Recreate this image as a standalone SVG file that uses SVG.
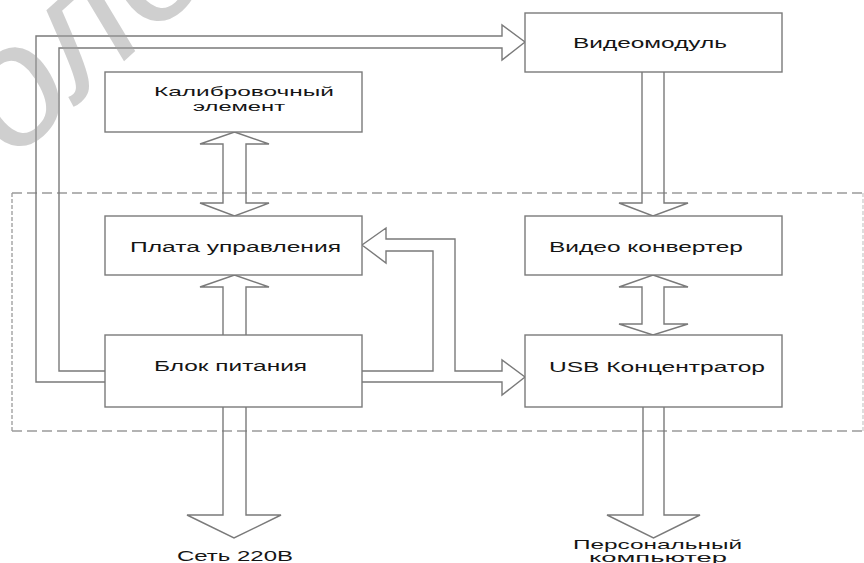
<svg xmlns="http://www.w3.org/2000/svg" width="864" height="563" viewBox="0 0 864 563">
<style>
.box{fill:#fff;stroke:#7a7a7a;stroke-width:1.4}
.con{fill:none;stroke:#7a7a7a;stroke-width:1.4;stroke-linejoin:miter}
.lbl{font-family:"Liberation Sans",Arial,sans-serif;font-size:14px;fill:#151515}
.sm{font-size:13px}
.dash{fill:none;stroke:#9a9a9a;stroke-width:1.3}
</style>
<rect width="864" height="563" fill="#fff"/>
<g id="boundary">
<line class="dash" x1="12" y1="193" x2="864" y2="193" stroke-dasharray="10 5"/>
<line class="dash" x1="12" y1="431" x2="864" y2="431" stroke-dasharray="10 5"/>
<line class="dash" x1="12" y1="193" x2="12" y2="431" stroke-dasharray="4 2"/>
<line class="dash" x1="863" y1="193" x2="863" y2="431" stroke-dasharray="4 2" stroke-opacity="0.5"/>
</g>
<g id="connectors">
<path class="con" d="M105,382 L36,382 L36,36 L502,36 L502,25 L525,42 L502,60 L502,48 L59,48 L59,371 L105,371"/>
<path class="con" d="M362,371 L433,371 L433,251 L386,251 L386,263 L362,245 L386,228 L386,239 L455,239 L455,371 L502,371 L502,360 L525,377 L502,395 L502,382 L362,382"/>
<path class="con" d="M234.5,132 L269,144 L246,144 L246,203 L269,203 L234.5,216 L200,203 L223,203 L223,144 L200,144 Z"/>
<path class="con" d="M223,335 L223,287 L200,287 L234.5,275 L269,287 L246,287 L246,335"/>
<path class="con" d="M642,72 L642,203 L619,203 L653,216 L688,203 L664,203 L664,72"/>
<path class="con" d="M653,275 L688,287 L664,287 L664,324 L688,324 L653,335 L619,324 L642,324 L642,287 L619,287 Z"/>
<path class="con" d="M223,407 L223,515 L187,515 L234,538 L281,515 L246,515 L246,407"/>
<path class="con" d="M643,407 L643,515 L607,515 L653.5,538 L700,515 L664,515 L664,407"/>
</g>
<g id="kalib"><rect class="box" x="105" y="72" width="257" height="60"/>
<text class="lbl sm" x="154" y="96" textLength="180" lengthAdjust="spacingAndGlyphs">Калибровочный</text>
<text class="lbl sm" x="193" y="111" textLength="92" lengthAdjust="spacingAndGlyphs">элемент</text></g>
<g id="videomodul"><rect class="box" x="525" y="13" width="257" height="59"/>
<text class="lbl" x="573" y="48" textLength="154" lengthAdjust="spacingAndGlyphs">Видеомодуль</text></g>
<g id="plata"><rect class="box" x="105" y="216" width="257" height="59"/>
<text class="lbl" x="130" y="252" textLength="211" lengthAdjust="spacingAndGlyphs">Плата управления</text></g>
<g id="blok"><rect class="box" x="105" y="335" width="257" height="72"/>
<text class="lbl" x="154" y="371" textLength="153" lengthAdjust="spacingAndGlyphs">Блок питания</text></g>
<g id="videoconv"><rect class="box" x="525" y="216" width="257" height="59"/>
<text class="lbl" x="549" y="252" textLength="194" lengthAdjust="spacingAndGlyphs">Видео конвертер</text></g>
<g id="usb"><rect class="box" x="525" y="335" width="257" height="72"/>
<text class="lbl" x="549" y="372" textLength="216" lengthAdjust="spacingAndGlyphs">USB Концентратор</text></g>
<g id="set"><text class="lbl" x="177" y="561" textLength="116" lengthAdjust="spacingAndGlyphs">Сеть 220В</text></g>
<g id="pc"><text class="lbl sm" x="573" y="549" textLength="169" lengthAdjust="spacingAndGlyphs">Персональный</text>
<text class="lbl sm" x="589" y="562" textLength="138" lengthAdjust="spacingAndGlyphs">компьютер</text></g>
<g id="watermark"><text x="12" y="162" transform="rotate(-42 12 162)" font-family="Liberation Sans,sans-serif" font-size="170" font-style="italic" fill="#a0a0a0" fill-opacity="0.5">оло</text></g>
</svg>
